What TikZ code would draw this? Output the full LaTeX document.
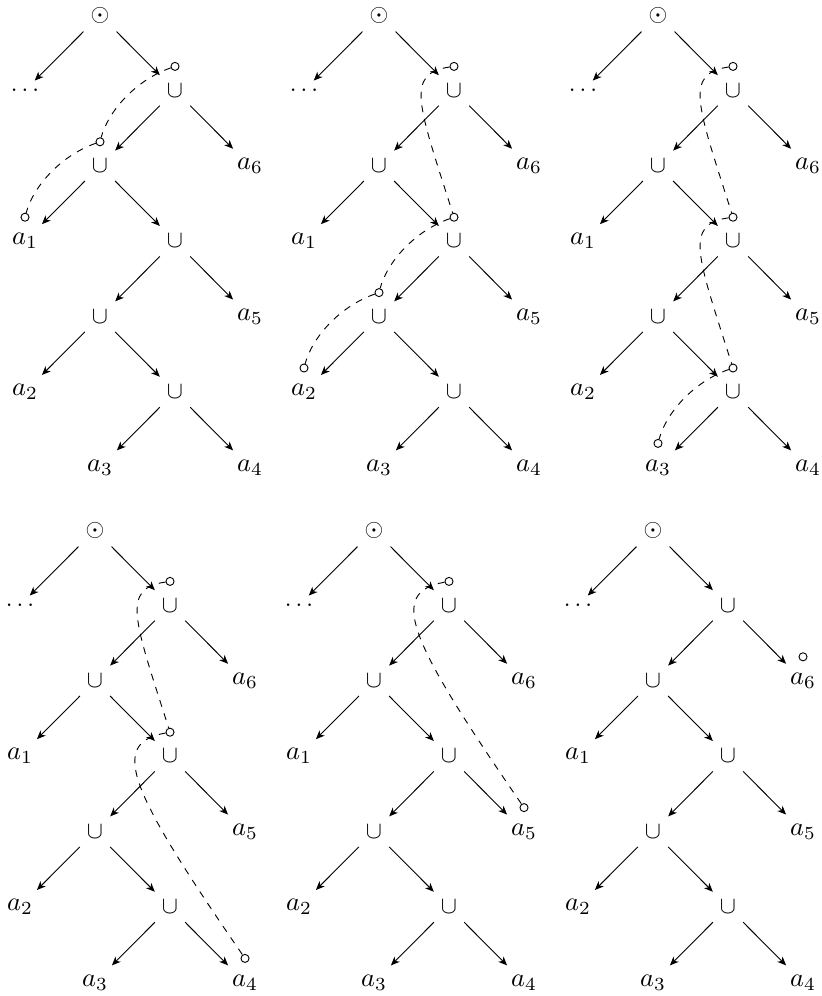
\documentclass[tikz,border=0pt]{standalone}
\usetikzlibrary{arrows.meta,calc}
\tikzset{
  treeedge/.style={-{Stealth[length=3.8pt,width=3.2pt,inset=1.1pt]}},
  hole/.style={circle,draw,inner sep=0pt,minimum size=3.5pt},
  trail/.style={dashed},
  sym/.style={scale=1.05},
  leaf/.style={scale=1.15},
}
\newcommand\mytree[3]{%
  \begin{scope}[shift={(#2,#3)}]
    \node[sym] (#1r) at (0,0) {$\odot$};
    \node[sym] (#1d) at (-75,75.4) {$\ldots$};
    \node[sym] (#1u1) at (75,75.4) {$\cup$};
    \node[sym] (#1u2) at (0,150.8) {$\cup$};
    \node[leaf] (#1a6) at (150,150.8) {$a_6$};
    \node[leaf] (#1a1) at (-75,226.2) {$a_1$};
    \node[sym] (#1u3) at (75,226.2) {$\cup$};
    \node[sym] (#1u4) at (0,301.6) {$\cup$};
    \node[leaf] (#1a5) at (150,301.6) {$a_5$};
    \node[leaf] (#1a2) at (-75,377) {$a_2$};
    \node[sym] (#1u5) at (75,377) {$\cup$};
    \node[leaf] (#1a3) at (0,452.4) {$a_3$};
    \node[leaf] (#1a4) at (150,452.4) {$a_4$};
    \draw[treeedge] (#1r) -- (#1d);
    \draw[treeedge] (#1r) -- (#1u1);
    \draw[treeedge] (#1u1) -- (#1u2);
    \draw[treeedge] (#1u1) -- (#1a6);
    \draw[treeedge] (#1u2) -- (#1a1);
    \draw[treeedge] (#1u2) -- (#1u3);
    \draw[treeedge] (#1u3) -- (#1u4);
    \draw[treeedge] (#1u3) -- (#1a5);
    \draw[treeedge] (#1u4) -- (#1a2);
    \draw[treeedge] (#1u4) -- (#1u5);
    \draw[treeedge] (#1u5) -- (#1a3);
    \draw[treeedge] (#1u5) -- (#1a4);
  \end{scope}}
\newcommand\hole[2]{\node[hole] (#1) at ($(#2)+(0,-24)$) {};}
\newcommand\lcurve[2]{\draw[trail] (#1) .. controls +(-40,14) and +(8,-30) .. (#2);}
\newcommand\longcurve[2]{\draw[trail] (#1) .. controls +(-49,7) and +(-36,-113) .. (#2);}
\newcommand\diagcurve[2]{\draw[trail] (#1) .. controls +(-61,11) and +(-117,-170) .. (#2);}
\begin{document}
\begin{tikzpicture}[x=0.4348pt,y=-0.4348pt]
  \useasboundingbox (0,0) rectangle (821,996);
  \mytree{A}{100}{15}
  \mytree{B}{379}{15}
  \mytree{C}{658}{15}
  \mytree{D}{95}{530}
  \mytree{E}{374}{530}
  \mytree{F}{653}{530}
  % tree A
  \hole{Ah1}{Au1}\hole{Ah2}{Au2}\hole{Ah3}{Aa1}
  \lcurve{Ah1}{Ah2}\lcurve{Ah2}{Ah3}
  % tree B
  \hole{Bh1}{Bu1}\hole{Bh2}{Bu3}\hole{Bh3}{Bu4}\hole{Bh4}{Ba2}
  \longcurve{Bh1}{Bh2}\lcurve{Bh2}{Bh3}\lcurve{Bh3}{Bh4}
  % tree C
  \hole{Ch1}{Cu1}\hole{Ch2}{Cu3}\hole{Ch3}{Cu5}\hole{Ch4}{Ca3}
  \longcurve{Ch1}{Ch2}\longcurve{Ch2}{Ch3}\lcurve{Ch3}{Ch4}
  % tree D
  \hole{Dh1}{Du1}\hole{Dh2}{Du3}\hole{Dh3}{Da4}
  \longcurve{Dh1}{Dh2}\diagcurve{Dh2}{Dh3}
  % tree E
  \hole{Eh1}{Eu1}\hole{Eh2}{Ea5}
  \diagcurve{Eh1}{Eh2}
  % tree F
  \hole{Fh1}{Fa6}
\end{tikzpicture}
\end{document}
